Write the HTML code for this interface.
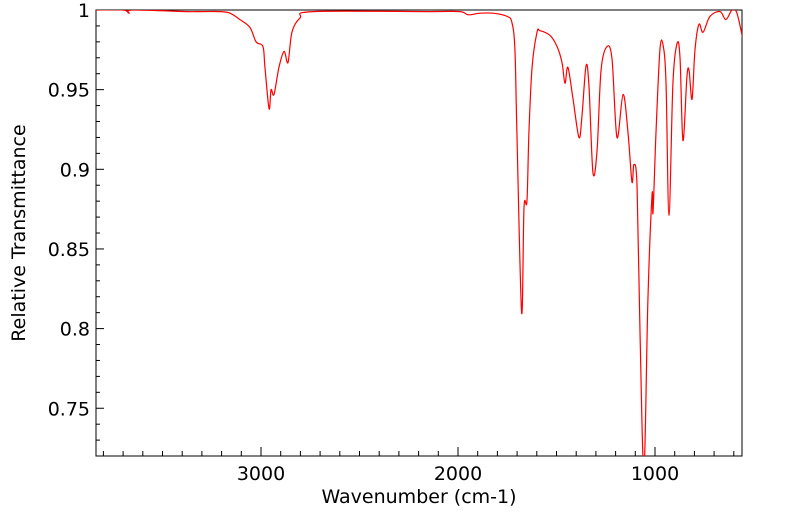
<!DOCTYPE html>
<html><head><meta charset="utf-8"><style>
html,body{margin:0;padding:0;background:#fff;}
svg{display:block;font-family:"DejaVu Sans","Liberation Sans",sans-serif;}
</style></head><body>
<svg id="chart" width="799" height="516" viewBox="0 0 799 516">
<defs><clipPath id="plotclip"><rect x="96" y="10" width="646" height="446"/></clipPath></defs>
<g id="axes"></g>
<path id="spectrum" fill="none" stroke="#ff0000" stroke-width="1.2" clip-path="url(#plotclip)"/>
<text x="419" y="503" text-anchor="middle" font-size="19">Wavenumber (cm-1)</text>
<text transform="translate(25,233) rotate(-90)" text-anchor="middle" font-size="19">Relative Transmittance</text>
</svg>
<script>
const wavenumbers=[3843,3700,3670,3650,3376,3310,3208,3157,3107,3056,3025,2990,2980,2959,2949,2934,2909,2883,2863,2843,2802,2736,2142,1990,1949,1888,1822,1751,1726,1711,1701,1677,1665,1650,1640,1624,1599,1584,1533,1497,1472,1457,1442,1416,1386,1371,1350,1335,1315,1294,1274,1244,1218,1193,1162,1137,1117,1107,1091,1076,1056,1036,1015,1010,995,975,959,944,929,909,888,873,858,838,827,812,797,777,756,721,670,640,609,584,553];
const transmittance=[1.0,1.0,0.998,1.0,0.999,0.999,0.999,0.998,0.994,0.989,0.980,0.977,0.964,0.938,0.950,0.947,0.964,0.974,0.967,0.986,0.995,0.999,0.999,0.999,0.997,0.998,0.998,0.996,0.992,0.975,0.923,0.810,0.876,0.880,0.923,0.964,0.986,0.987,0.984,0.977,0.967,0.954,0.964,0.944,0.920,0.933,0.965,0.952,0.898,0.912,0.962,0.977,0.969,0.920,0.947,0.923,0.892,0.903,0.889,0.797,0.711,0.818,0.884,0.873,0.923,0.975,0.978,0.954,0.871,0.954,0.979,0.970,0.918,0.958,0.962,0.944,0.975,0.991,0.986,0.996,0.999,0.994,1.0,0.998,0.981];
const yTickLabels=["1","0.95","0.9","0.85","0.8","0.75"];
const yTickValues=[1,0.95,0.9,0.85,0.8,0.75];
const xTickValues=[3000,2000,1000];
const xTickLabels=["3000","2000","1000"];

const L=96,R=742,T=10,B=456;
const xs=w=>261+(3000-w)*0.197;
const ys=v=>10+(1-v)*1593;
const NS="http://www.w3.org/2000/svg";
const ax=document.getElementById('axes');
function el(tag,attrs,parent){const e=document.createElementNS(NS,tag);for(const k in attrs)e.setAttribute(k,attrs[k]);(parent||ax).appendChild(e);return e;}
const frame=el('rect',{x:L,y:T,width:R-L,height:B-T,fill:'none',stroke:'#000','stroke-width':1});


for(let i=0;i<=28;i++){const v=1-i*0.01;const y=ys(v);if(y>B)break;const major=i%5===0;
const t=el('line',{x1:L,x2:L+(major?8:4),y1:y,y2:y,stroke:'#000'});

}
yTickValues.forEach((v,i)=>{const t=el('text',{x:L-6,y:ys(v)+7,'text-anchor':'end','font-size':19});t.textContent=yTickLabels[i];

});
for(let w=3800;w>=600;w-=100){const x=xs(w);if(x<L||x>R)continue;const major=w%1000===0;
const t=el('line',{x1:x,x2:x,y1:B,y2:B-(major?9:5),stroke:'#000'});

}
xTickValues.forEach((w,i)=>{const t=el('text',{x:xs(w),y:B+24,'text-anchor':'middle','font-size':19});t.textContent=xTickLabels[i];

});
const pts=wavenumbers.map((w,i)=>[xs(w),ys(transmittance[i])]);
let d='M'+pts[0][0].toFixed(2)+','+pts[0][1].toFixed(2);
for(let i=0;i<pts.length-1;i++){const p0=pts[i-1]||pts[i],p1=pts[i],p2=pts[i+1],p3=pts[i+2]||p2;
const c1=[p1[0]+(p2[0]-p0[0])/6,p1[1]+(p2[1]-p0[1])/6];
const c2=[p2[0]-(p3[0]-p1[0])/6,p2[1]-(p3[1]-p1[1])/6];
d+=' C'+c1.map(n=>n.toFixed(2))+' '+c2.map(n=>n.toFixed(2))+' '+p2.map(n=>n.toFixed(2));}
document.getElementById('spectrum').setAttribute('d',d);
</script>
</body></html>
